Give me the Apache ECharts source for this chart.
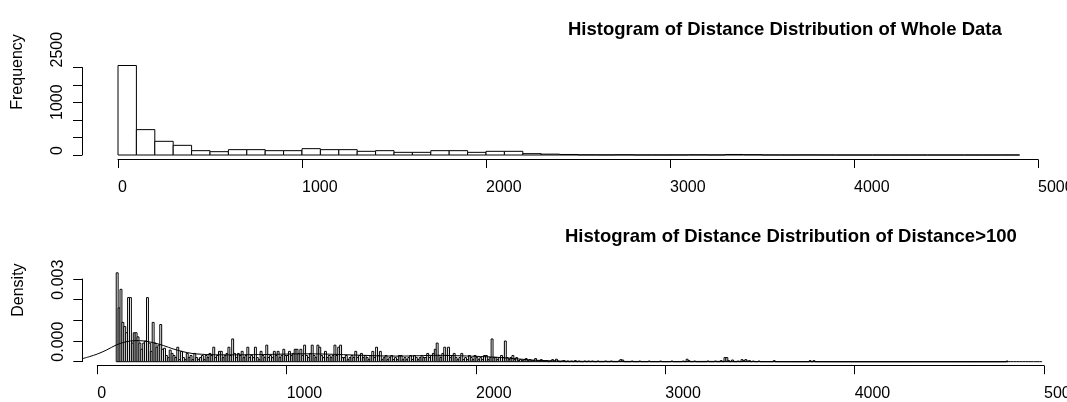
<!DOCTYPE html>
<html>
<head>
<meta charset="utf-8">
<script src="https://cdn.jsdelivr.net/npm/echarts/dist/echarts.min.js"></script>
<style>
html,body{margin:0;padding:0;background:#fff;}
#chart{width:1067px;height:402px;}
</style>
</head>
<body>
<div id="chart"></div>
<script>
// ---------- DATA ----------
var titles = ['Histogram of Distance Distribution of Whole Data', 'Histogram of Distance Distribution of Distance>100'];
var xTickLabels = ['0', '1000', '2000', '3000', '4000', '5000'];
var topYTickLabels = ['0', '', '1000', '', '', '2500'];
var bottomYTickLabels = ['0.000', '', '', '0.003', ''];

// Whole data: breaks every 100 from 0 to 4900 (counts)
var topBreakStart = 0;
var topBinWidth = 100;
var topCounts = [
  2557, 725, 391, 276, 124, 95, 153, 153, 124, 124,
  181, 153, 153, 105, 124, 76, 76, 124, 124, 76,
  105, 105, 38, 25, 15, 5, 4, 8, 2, 2,
  3, 6, 3, 15, 10, 2, 1, 3, 1, 0,
  0, 0, 0, 0, 0, 0, 0, 0, 1
];

// Distance > 100: breaks every 10 from 100 to 4810 (density)
var bottomBreakStart = 100;
var bottomBinWidth = 10;
var bottomDensity = [
  0.0043,0.0026,0.0035,0.0019,0.0017,0.0014,0.0031,0.0031,0.0009,0.0014,
  0.0014,0.0012,0.0009,0.0006,0.0009,0.0010,0.0031,0.0009,0.0005,0.0019,
  0.0009,0.0007,0.0008,0.0018,0.0006,0.00065,0.0003,0.0002,0.00056,0.0004,
  0.0003,0.0002,0.0007,0.0001,0.0005,0.0002,0.0001,0.0004,0.0002,0.0003,
  0.0001,0.0004,0.0002,0.0001,0.0002,0.0003,0.0001,0.0003,0.0002,0.0004,
  0.0003,0.0007,0.0002,0.0003,0.0005,0.0005,0.0002,0.0003,0.0004,0.0007,
  0.0003,0.0011,0.0004,0.0002,0.0004,0.0003,0.0005,0.0002,0.0003,0.0007,
  0.0002,0.0003,0.0002,0.0007,0.0002,0.0001,0.0005,0.0003,0.0002,0.0008,
  0.0002,0.0003,0.0002,0.0005,0.0003,0.0005,0.0002,0.0003,0.0006,0.0003,
  0.0003,0.0005,0.0003,0.0004,0.0006,0.0006,0.0004,0.0006,0.0003,0.0008,
  0.0003,0.0002,0.0004,0.0008,0.0003,0.0002,0.0008,0.0007,0.0003,0.0002,
  0.0005,0.0002,0.0003,0.0002,0.0003,0.0008,0.0003,0.0007,0.0008,0.0002,
  0.0002,0.0003,0.0001,0.0002,0.0003,0.0002,0.0005,0.0002,0.0003,0.0004,
  0.0002,0.0003,0.0002,0.0001,0.0003,0.0005,0.0002,0.0007,0.0003,0.0005,
  0.0001,0.0002,0.0003,0.0001,0.0002,0.0003,0.0001,0.0002,0.0001,0.0003,
  0.0003,0.0001,0.0002,0.0001,0.0002,0.0003,0.0001,0.0003,0.0002,0.0001,
  0.0002,0.0003,0.0002,0.0002,0.0004,0.0002,0.0003,0.0004,0.0006,0.0009,
  0.0003,0.0002,0.0004,0.0007,0.0003,0.0007,0.0002,0.0003,0.0004,0.0002,
  0.0001,0.0002,0.0004,0.0001,0.0002,0.0001,0.0003,0.0002,0.0001,0.0003,
  0.0002,0.0001,0.0002,0.0001,0.0003,0.0003,0.0001,0.0002,0.0011,0.0002,
  0.0002,0.0001,0.0002,0.0003,0.0002,0.0010,0.0002,0.0001,0.0002,0.0003,
  0.0001,0.0002,0.00005,0.0001,0.00005,0.0001,0.00015,0.00005,0.0001,0.00005,
  0.00005,0.00015,0.00005,0.00003,0.0001,0.00005,0.00003,0.00005,0,0.00003,
  0.0001,0.00003,0.00012,0.00003,0,0.00003,0.00005,0,0.00003,0,
  0.00003,0,0.00005,0,0.00003,0,0,0.00003,0,0.00003,
  0,0.00003,0,0,0.00003,0,0,0,0.00003,0,
  0,0.00003,0,0,0,0.00003,0.0001,0.00008,0,0,
  0,0,0.00003,0,0,0,0.00003,0,0,0,
  0,0.00003,0,0,0,0,0,0.00003,0,0,
  0,0,0,0.00003,0,0,0,0,0,0.00003,
  0,0.00012,0.00005,0,0,0.00003,0,0,0,0,
  0,0,0.00003,0,0,0,0.00003,0,0,0.00005,
  0,0.0002,0.0002,0.00005,0,0.00008,0,0,0.00003,0,
  0.0001,0.00005,0.0001,0.00003,0.00005,0,0.00003,0,0,0.00003,
  0,0,0,0,0,0,0,0.00005,0,0,
  0,0,0,0,0,0,0,0,0,0,
  0,0,0,0,0,0,0.00005,0,0.00005,0,
  0,0,0,0,0,0,0,0,0,0,
  0,0,0,0,0,0,0,0,0,0,
  0,0,0,0,0,0,0,0,0,0,
  0,0,0,0,0,0,0,0,0,0,
  0,0,0,0,0,0,0,0,0,0,
  0,0,0,0,0,0,0,0,0,0,
  0,0,0,0,0,0,0,0,0,0,
  0,0,0,0,0,0,0,0,0,0,
  0,0,0,0,0,0,0,0,0,0,
  0,0,0,0,0,0,0,0,0,0,
  0.00003
];

// Kernel density estimate curve (x, density)
var densityX = [-79, -40, 0, 50, 100, 150, 200, 250, 300, 350, 400, 450, 500, 550, 600, 700, 800, 900, 1000, 1100, 1200, 1300, 1400, 1500, 1600, 1700, 1800, 1900, 2000, 2100, 2200, 2300, 2400, 2500, 2700, 3000, 3300, 3500, 3800, 4200, 4800, 4990];
var densityY = [0.000145, 0.00025, 0.00037, 0.00057, 0.00081, 0.00096, 0.00102, 0.00100, 0.00091, 0.00078, 0.00062, 0.00049, 0.00040, 0.00036, 0.00034, 0.00033, 0.00034, 0.00035, 0.00037, 0.00038, 0.00037, 0.00034, 0.00031, 0.00028, 0.00027, 0.00029, 0.00031, 0.00029, 0.00026, 0.00022, 0.00015, 0.00008, 0.00004, 0.00002, 0.000015, 0.00001, 0.000015, 0.00001, 0.000005, 0.000002, 0.000003, 0.000001];

// ---------- BUILD ----------
var FONT = '"Liberation Sans", Arial, Helvetica, sans-serif';

var topBins = topCounts.map(function (c, i) {
  return [topBreakStart + i * topBinWidth, topBreakStart + (i + 1) * topBinWidth, c];
});
var bottomBins = bottomDensity.map(function (d, i) {
  return [bottomBreakStart + i * bottomBinWidth, bottomBreakStart + (i + 1) * bottomBinWidth, d];
});
var densityLine = densityX.map(function (x, i) { return [x, densityY[i]]; });

function histItem(params, api) {
  var x0 = api.value(0), x1 = api.value(1), h = api.value(2);
  var p0 = api.coord([x0, h]);
  var p1 = api.coord([x1, 0]);
  return {
    type: 'rect',
    shape: { x: p0[0], y: p0[1], width: p1[0] - p0[0], height: p1[1] - p0[1] },
    style: { fill: '#ffffff', stroke: '#000000', lineWidth: 1 }
  };
}

function xAxisCfg(grid, offset, margin) {
  return {
    type: 'value', gridIndex: grid, min: 0, max: 5000, interval: 1000, offset: offset,
    axisLine: { show: true, onZero: false, lineStyle: { color: '#000', width: 1 } },
    axisTick: { show: true, length: 8.5, lineStyle: { color: '#000', width: 1 } },
    axisLabel: {
      show: true, align: 'left', margin: margin, fontSize: 16, color: '#000', fontFamily: FONT,
      formatter: function (v, i) { return xTickLabels[i]; }
    },
    splitLine: { show: false }
  };
}

function yAxisCfg(grid, min, max, interval, offset, labels, name, namePadLeft) {
  return {
    type: 'value', gridIndex: grid, min: min, max: max, interval: interval, offset: offset,
    name: name, nameLocation: 'middle', nameRotate: 90, nameGap: 56,
    nameTextStyle: { fontSize: 16, color: '#000', fontFamily: FONT, align: 'left', padding: [0, 0, 0, namePadLeft] },
    axisLine: { show: true, onZero: false, lineStyle: { color: '#000', width: 1 } },
    axisTick: { show: true, length: 9, lineStyle: { color: '#000', width: 1 } },
    axisLabel: {
      show: true, rotate: 90, align: 'left', verticalAlign: 'bottom', margin: 16,
      fontSize: 16, color: '#000', fontFamily: FONT,
      formatter: function (v, i) { return labels[i]; }
    },
    splitLine: { show: false }
  };
}

// hidden axes for the density curve, extended left to the plot edge
function hiddenAxis(grid, min, max) {
  return {
    type: 'value', gridIndex: grid, min: min, max: max, show: false,
    axisLine: { onZero: false }, splitLine: { show: false }
  };
}

var chart = echarts.init(document.getElementById('chart'), null, { renderer: 'canvas' });
chart.setOption({
  backgroundColor: '#ffffff',
  animation: false,
  title: [
    { text: titles[0], left: 568, top: 20, padding: 0,
      textStyle: { fontSize: 18.5, fontWeight: 'bold', color: '#000', fontFamily: FONT } },
    { text: titles[1], left: 565, top: 227, padding: 0,
      textStyle: { fontSize: 18.5, fontWeight: 'bold', color: '#000', fontFamily: FONT } }
  ],
  grid: [
    { left: 118, top: 67.5, width: 920, height: 87.5, containLabel: false, outerBoundsMode: 'none' },
    { left: 97.3, top: 279, width: 946.7, height: 82.7, containLabel: false, outerBoundsMode: 'none' },
    // same plot, widened on the left by 79 data units so the KDE reaches the plot edge
    { left: 82.34, top: 279, width: 961.66, height: 82.7, containLabel: false, outerBoundsMode: 'none' }
  ],
  xAxis: [xAxisCfg(0, 4.5, 20.5), xAxisCfg(1, 4, 19.5), hiddenAxis(2, -79, 5000)],
  yAxis: [
    yAxisCfg(0, 0, 2500, 500, 36, topYTickLabels, 'Frequency', 1.5),
    yAxisCfg(1, 0, 0.004, 0.001, 15, bottomYTickLabels, 'Density', 3.6),
    hiddenAxis(2, 0, 0.004)
  ],
  series: [
    { type: 'custom', xAxisIndex: 0, yAxisIndex: 0, renderItem: histItem, data: topBins, clip: false, silent: true },
    { type: 'custom', xAxisIndex: 1, yAxisIndex: 1, renderItem: histItem, data: bottomBins, clip: false, silent: true },
    { type: 'line', xAxisIndex: 2, yAxisIndex: 2, data: densityLine, smooth: 0.3, showSymbol: false, clip: false,
      lineStyle: { color: '#000', width: 1 }, silent: true }
  ]
});
</script>
</body>
</html>
